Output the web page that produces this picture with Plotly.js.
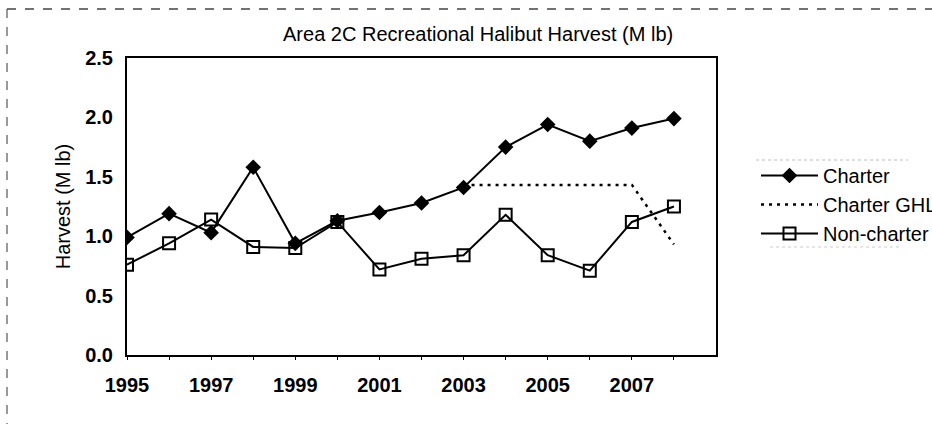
<!DOCTYPE html>
<html>
<head>
<meta charset="utf-8">
<script src="https://cdn.plot.ly/plotly-3.0.1.min.js"></script>
<style>html,body{margin:0;padding:0;background:#fff;}#chart{width:932px;height:424px;}</style>
</head>
<body>
<div id="chart"></div>
<script>
const years = [1995,1996,1997,1998,1999,2000,2001,2002,2003,2004,2005,2006,2007,2008];
const charter = [0.99,1.19,1.03,1.58,0.94,1.13,1.20,1.28,1.41,1.75,1.94,1.80,1.91,1.99];
const nonCharter = [0.76,0.94,1.14,0.91,0.90,1.12,0.72,0.81,0.84,1.18,0.84,0.71,1.12,1.25];
const ghlYears = [2003,2004,2005,2006,2007,2008];
const charterGHL = [1.432,1.432,1.432,1.432,1.432,0.931];
const seriesNames = ['Charter','Charter GHL','Non-charter'];
const xTicks = [1995,1997,1999,2001,2003,2005,2007];
const yTicks = [0,0.5,1.0,1.5,2.0,2.5];

const FONT = 'Liberation Sans, Arial, sans-serif';
const traces = [
  {x: years, y: charter, name: seriesNames[0], type:'scatter', mode:'lines+markers',
   line:{color:'#000', width:2}, marker:{symbol:'diamond', size:12, color:'#000'}},
  {x: ghlYears, y: charterGHL, name: seriesNames[1], type:'scatter', mode:'lines',
   line:{color:'#000', width:2.5, dash:'3px,5px'}},
  {x: years, y: nonCharter, name: seriesNames[2], type:'scatter', mode:'lines+markers',
   line:{color:'#000', width:2}, marker:{symbol:'square-open', size:12, color:'#000', line:{width:2, color:'#000'}}}
];
const layout = {
  width:932, height:424,
  margin:{l:127, r:216, t:58, b:69},
  paper_bgcolor:'#fff', plot_bgcolor:'#fff',
  font:{family:FONT, color:'#000', size:20},
  showlegend:true,
  title:{text:'Area 2C Recreational Halibut Harvest (M lb)', font:{family:FONT, size:20, color:'#000'},
         xref:'container', yref:'container', x:0.513, xanchor:'center', y:0.92, yanchor:'middle'},
  xaxis:{range:[1995,2009], tickvals:xTicks, ticktext:xTicks.map(String), showgrid:false, zeroline:false,
         showline:true, linecolor:'#000', linewidth:2, mirror:true,
         ticks:'outside', ticklen:3, tickcolor:'#000', tickfont:{size:20, weight:'bold'},
         minor:{tickvals:years, ticks:'outside', ticklen:3, tickcolor:'#000'}, ticklabelstandoff:8},
  yaxis:{range:[0,2.5], tickvals:yTicks, tickformat:'.1f', showgrid:false, zeroline:false,
         showline:true, linecolor:'#000', linewidth:2, mirror:true, ticks:'', tickfont:{size:20, weight:'bold'},
         ticklabelstandoff:8,
         title:{text:'Harvest (M lb)', font:{size:20}, standoff:9}},
  legend:{x:756/932, xref:'container', y:1-156/424, yref:'container', xanchor:'left', yanchor:'top',
          font:{size:20}, itemwidth:57, tracegroupgap:0, bgcolor:'rgba(0,0,0,0)'},
  shapes:[
    {type:'line', xref:'paper', yref:'paper', x0:-120/589, x1:1.5, y0:1+49/297, y1:1+49/297, line:{color:'#444', width:1.5, dash:'dash'}},
    {type:'line', xref:'paper', yref:'paper', x0:-120/589, x1:-120/589, y0:1+49/297, y1:-0.3, line:{color:'#555', width:1.2, dash:'dash'}},
    {type:'line', xref:'paper', yref:'paper', x0:(756-127)/589, x1:(908-127)/589, y0:(355-160)/297, y1:(355-160)/297, line:{color:'#bbb', width:1, dash:'dot'}},
    {type:'line', xref:'paper', yref:'paper', x0:(770-127)/589, x1:(900-127)/589, y0:(355-247)/297, y1:(355-247)/297, line:{color:'#ccc', width:1, dash:'dot'}}
  ]
};
Plotly.newPlot('chart', traces, layout, {displayModeBar:false, staticPlot:true});
</script>
</body>
</html>
